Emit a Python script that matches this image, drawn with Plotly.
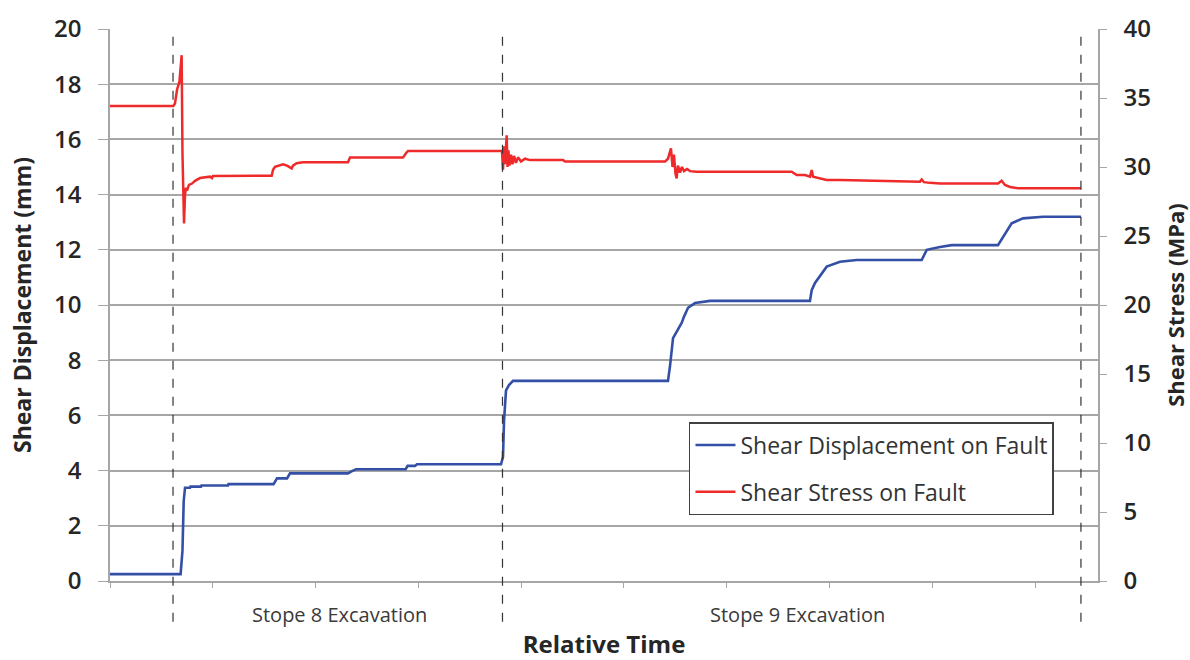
import plotly.graph_objects as go

# ---- data (relative time units; displacement in mm; stress in MPa) ----
disp_t = [0.00, 6.87, 7.05, 7.17, 7.30, 7.78, 7.83, 8.85, 8.90, 11.48, 11.53, 15.91,
          16.25, 17.22, 17.51, 23.15, 23.54, 23.93, 28.76, 28.95, 29.67, 29.86, 38.04,
          38.23, 38.33, 38.42, 38.52, 38.81, 39.20, 54.28, 54.47, 54.77, 55.25, 55.61,
          55.84, 56.23, 56.91, 58.37, 68.09, 68.26, 68.58, 69.23, 69.72, 71.01, 72.64,
          78.96, 79.45, 80.74, 81.88, 86.38, 87.23, 87.71, 88.81, 90.76, 94.45]
disp_mm = [0.25, 0.25, 1.10, 2.90, 3.38, 3.38, 3.42, 3.42, 3.46, 3.46, 3.51, 3.51,
           3.72, 3.72, 3.90, 3.90, 3.98, 4.05, 4.05, 4.17, 4.17, 4.23, 4.23,
           4.50, 5.80, 6.60, 6.90, 7.10, 7.25, 7.25, 7.77, 8.80, 9.10, 9.35,
           9.58, 9.90, 10.07, 10.15, 10.15, 10.54, 10.80, 11.15, 11.39, 11.57, 11.63,
           11.63, 12.00, 12.10, 12.17, 12.17, 12.70, 12.96, 13.14, 13.20, 13.20]

stress_t = [0.00, 6.16, 6.32, 6.52, 6.76, 6.97, 7.05, 7.10, 7.20, 7.30, 7.39, 7.49,
            7.68, 7.98, 8.27, 8.75, 9.24, 9.73, 9.92, 10.02, 15.73, 15.86, 16.05,
            16.83, 17.22, 17.67, 17.80, 18.16, 18.77, 23.15, 23.35, 28.50, 28.79,
            28.99, 38.13, 38.23, 38.33, 38.42, 38.59, 38.67, 38.76, 38.86, 39.01,
            39.15, 39.30, 39.49, 39.69, 39.98, 40.37, 40.86, 44.07, 44.26, 45.40,
            53.99, 54.28, 54.57, 54.72, 54.86, 55.01, 55.12, 55.25, 55.45, 55.64,
            55.84, 56.13, 56.42, 57.07, 66.31, 66.80, 67.61, 68.09, 68.26, 68.39,
            68.87, 69.72, 71.01, 76.85, 78.79, 78.96, 79.18, 79.77, 80.74, 86.38,
            86.74, 87.06, 87.55, 88.33, 94.45]
stress_mpa = [34.42, 34.42, 34.60, 35.60, 36.20, 38.10, 31.00, 28.30, 25.90, 28.00, 28.50, 28.30,
              28.70, 28.80, 29.00, 29.20, 29.25, 29.30, 29.20, 29.35, 29.37, 29.80, 30.02,
              30.20, 30.10, 29.90, 30.10, 30.27, 30.34, 30.34, 30.68, 30.68, 31.00,
              31.16, 31.16, 29.80, 31.50, 30.20, 32.30, 30.00, 31.20, 30.10, 30.90,
              30.20, 30.80, 30.30, 30.70, 30.40, 30.60, 30.50, 30.50, 30.40, 30.39,
              30.39, 30.60, 31.35, 30.00, 30.90, 29.50, 29.18, 30.10, 29.60, 30.00,
              29.70, 29.85, 29.70, 29.66, 29.66, 29.42, 29.42, 29.30, 29.78, 29.30,
              29.20, 29.06, 29.06, 29.00, 28.94, 29.10, 28.90, 28.85, 28.80, 28.80,
              29.00, 28.70, 28.55, 28.46, 28.46]

event_t = [6.13, 38.18, 94.45]
stage_labels = ["Stope 8 Excavation", "Stope 9 Excavation"]
stage_label_t = [22.37, 66.83]

x_range = [0, 96.11]
disp_range = [0, 20]
stress_range = [0, 40]

FONT = "Open Sans, Noto Sans, sans-serif"
GRID = "#a6a6a6"
TXT = "#262626"

fig = go.Figure()
fig.add_trace(go.Scatter(x=disp_t, y=disp_mm, mode="lines", name="Shear Displacement on Fault",
                         line=dict(color="#3350a6", width=2.6), legendgroup="a", yaxis="y"))
fig.add_trace(go.Scatter(x=stress_t, y=stress_mpa, mode="lines", name="Shear Stress on Fault",
                         line=dict(color="#ee2a2a", width=2.5), legendgroup="b", yaxis="y2"))

for t in event_t:
    fig.add_shape(type="line", xref="x", yref="paper", x0=t, x1=t, y0=-0.074, y1=1,
                  line=dict(color="#333333", width=1.2, dash="dash"))

for lbl, t in zip(stage_labels, stage_label_t):
    fig.add_annotation(text=lbl, x=t, xref="x", y=-0.06, yref="paper", showarrow=False,
                       font=dict(family=FONT, size=20, color="#3a3a3a"), yanchor="middle")

fig.update_layout(
    width=1190, height=660,
    margin=dict(l=110, r=92, t=29, b=79, autoexpand=False),
    paper_bgcolor="white", plot_bgcolor="white",
    font=dict(family=FONT, color=TXT),
    showlegend=True,
    legend=dict(x=0.586, y=0.288, xanchor="left", yanchor="top",
                bgcolor="white", bordercolor="#404040", borderwidth=1.5,
                font=dict(family=FONT, size=23, color="#333333"),
                tracegroupgap=14, traceorder="grouped", itemwidth=40),
    xaxis=dict(range=x_range, showticklabels=False, ticks="outside", ticklen=5,
               tickcolor=GRID, dtick=10, tick0=0, showgrid=False, zeroline=False,
               showline=True, linecolor=GRID, linewidth=1.5, automargin=False,
               title=dict(text="<b>Relative Time</b>", standoff=64,
                          font=dict(family=FONT, size=24, color=TXT))),
    yaxis=dict(range=disp_range, dtick=2, tick0=0, showgrid=True, gridcolor=GRID,
               gridwidth=1.5, zeroline=False, showline=True, linecolor=GRID,
               linewidth=1.5, ticks="outside", ticklen=10, tickcolor=GRID, automargin=False,
               tickfont=dict(family=FONT, size=24, color=TXT, weight=600), ticklabelstandoff=12,
               title=dict(text="<b>Shear Displacement (mm)</b>", standoff=16,
                          font=dict(family=FONT, size=23, color=TXT))),
    yaxis2=dict(range=stress_range, dtick=5, tick0=0, overlaying="y", side="right",
                showgrid=False, zeroline=False, showline=True, linecolor=GRID,
                linewidth=1.5, ticks="outside", ticklen=7, tickcolor=GRID, automargin=False,
                tickfont=dict(family=FONT, size=24, color=TXT, weight=600), ticklabelstandoff=12,
                title=dict(text="<b>Shear Stress (MPa)</b>", standoff=20,
                           font=dict(family=FONT, size=22, color=TXT))),
)

fig.write_html("out.html")
